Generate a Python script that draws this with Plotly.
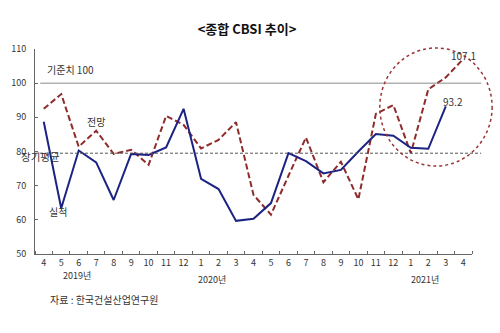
import plotly.graph_objects as go

months = ["4", "5", "6", "7", "8", "9", "10", "11", "12", "1", "2", "3",
          "4", "5", "6", "7", "8", "9", "10", "11", "12", "1", "2", "3", "4"]
actual = [88.7, 63.4, 80.3, 76.8, 65.8, 79.3, 79.0, 81.2, 92.5, 72.0, 69.0, 59.7,
          60.3, 64.9, 79.5, 77.2, 73.6, 74.6, 80.0, 85.1, 84.6, 81.1, 80.8, 93.2]
forecast = [92.5, 96.8, 81.4, 86.1, 79.3, 80.5, 76.1, 90.4, 87.8, 80.9, 83.4, 88.6,
            67.3, 61.5, 72.9, 84.1, 71.0, 77.0, 66.0, 91.0, 93.6, 79.5, 98.2, 101.7, 107.1]
years = ["2019년", "2020년", "2021년"]
year_pos = [1.9, 9.6, 21.8]
baseline = 100
long_avg = 79.5

FONT = "Noto Sans CJK KR"
NAVY = "#1c2383"
RED = "#8e2b2b"

xa = list(range(len(actual)))
xf = list(range(len(forecast)))

fig = go.Figure()
fig.add_trace(go.Scatter(x=xf, y=forecast, mode="lines",
                         line=dict(color=RED, width=2, dash="6px,3px"),
                         showlegend=False, hoverinfo="skip"))
fig.add_trace(go.Scatter(x=xa, y=actual, mode="lines",
                         line=dict(color=NAVY, width=2),
                         showlegend=False, hoverinfo="skip"))

# reference lines
fig.add_shape(type="line", xref="paper", yref="y", x0=0.012, x1=1.021,
              y0=baseline, y1=baseline, line=dict(color="#8a8a8a", width=1))
fig.add_shape(type="line", xref="paper", yref="y", x0=0.0, x1=1.021,
              y0=long_avg, y1=long_avg, line=dict(color="#555555", width=1, dash="3px,2px"))
# highlight ellipse (paper coords so it is not clipped by the plot area)
fig.add_shape(type="circle", xref="paper", yref="paper", x0=0.789, x1=1.046, y0=0.429, y1=1.005,
              line=dict(color="#9a3535", width=1.5, dash="dot"))

ann = [
    dict(text="기준치 100", x=0.07, y=103.9, xanchor="left"),
    dict(text="전망", x=3.0, y=88.7),
    dict(text="실적", x=0.8, y=62.3),
    dict(text="107.1", x=24.0, y=108.2),
    dict(text="93.2", x=23.4, y=94.6),
]
for a in ann:
    fig.add_annotation(text=a["text"], x=a["x"], y=a["y"], xref="x", yref="y",
                       xanchor=a.get("xanchor", "center"), yanchor="middle",
                       showarrow=False, font=dict(family=FONT, size=10, color="#333333"))
fig.add_annotation(text="장기평균", x=-0.037, y=78.4, xref="paper", yref="y",
                   yanchor="middle", showarrow=False,
                   font=dict(family=FONT, size=10.5, color="#333333"))
for yl, yp in zip(years, year_pos):
    fig.add_annotation(text=yl, x=yp, y=-0.107 if yl == "2019년" else -0.122,
                       xref="x", yref="paper", yanchor="middle",
                       showarrow=False, font=dict(family=FONT, size=9, color="#333333"))
fig.add_annotation(text="자료 : 한국건설산업연구원", x=0.03, y=-0.22, xref="paper", yref="paper",
                   xanchor="left", yanchor="middle", showarrow=False,
                   font=dict(family=FONT, size=10, color="#333333"))

fig.update_layout(
    width=500, height=333,
    margin=dict(l=35, r=28, t=49, b=79),
    paper_bgcolor="white", plot_bgcolor="white",
    title=dict(text="<b>&lt;종합 CBSI 추이&gt;</b>", x=0.494, xanchor="center",
               y=1 - 29 / 333, yanchor="middle",
               font=dict(family=FONT, size=13, color="#111111")),
    font=dict(family=FONT, size=9, color="#333333"),
)
fig.update_xaxes(range=[-0.5, 24.5], tickmode="array", tickvals=list(range(len(months))),
                 ticktext=months, ticks="", showgrid=False, zeroline=False,
                 showline=True, linecolor="#666666", linewidth=1,
                 minor=dict(tickmode="linear", tick0=-0.5, dtick=1, ticks="inside",
                            ticklen=3, tickcolor="#666666", showgrid=False),
                 tickfont=dict(family=FONT, size=9, color="#333333"))
fig.update_yaxes(range=[50, 110], dtick=10, ticks="inside", ticklen=3, tickcolor="#666666",
                 showgrid=False, zeroline=False, showline=True, linecolor="#666666",
                 linewidth=1, ticklabelstandoff=6,
                 tickfont=dict(family=FONT, size=9, color="#333333"))

fig.write_html("out.html")
